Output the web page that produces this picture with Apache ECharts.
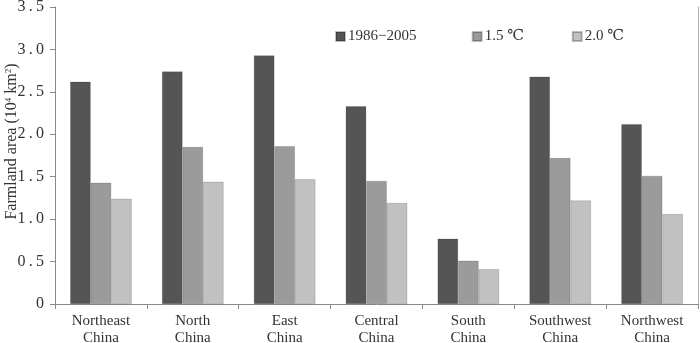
<!DOCTYPE html>
<html>
<head>
<meta charset="utf-8">
<script src="https://cdn.jsdelivr.net/npm/echarts@6/dist/echarts.min.js"></script>
<style>
  html, body { margin: 0; padding: 0; background: #fff; }
  #chart-container { width: 700px; height: 343px; }
</style>
</head>
<body>
<div id="chart-container"></div>
<script>
const regions = ['Northeast\nChina', 'North\nChina', 'East\nChina', 'Central\nChina', 'South\nChina', 'Southwest\nChina', 'Northwest\nChina'];
const seriesNames = ['1986\u22122005', '1.5 \u2103', '2.0 \u2103'];
const base = [2.62, 2.74, 2.93, 2.33, 0.77, 2.68, 2.12];
const warm15 = [1.43, 1.85, 1.86, 1.45, 0.51, 1.72, 1.51];
const warm20 = [1.24, 1.44, 1.47, 1.19, 0.41, 1.22, 1.06];
const barColors = ['#555555', '#9a9b9a', '#c1c1c1'];

const fontFamily = '"Liberation Serif", "DejaVu Serif", serif';
const axisGray = '#8a8a8a';
const dom = document.getElementById('chart-container');
const myChart = echarts.init(dom, null, { renderer: 'canvas' });

function makeSeries(name, data, color) {
    return {
        name: name,
        type: 'bar',
        data: data,
        barGap: '0%',
        barCategoryGap: '33%',
        itemStyle: { color: color, borderColor: 'rgba(0,0,0,0.25)', borderWidth: 0.6 }
    };
}

const option = {
    animation: false,
    textStyle: { fontFamily: fontFamily },
    legend: {
        left: 330,
        top: 24,
        itemWidth: 9,
        itemHeight: 9,
        itemGap: 44,
        icon: 'rect',
        textStyle: { fontFamily: fontFamily, fontSize: 15, color: '#333', padding: [0, 0, 0, -2] },
        formatter: function (name) {
            if (name === seriesNames[0]) return name + '   ';
            if (name === seriesNames[1]) return name + ' ';
            return name;
        },
        data: seriesNames
    },
    grid: { left: 55, right: 2, top: 7, bottom: 39, outerBoundsMode: 'none' },
    xAxis: {
        type: 'category',
        data: regions,
        axisLine: { lineStyle: { color: axisGray, width: 1 } },
        axisTick: { show: true, length: 5, lineStyle: { color: axisGray } },
        axisLabel: { color: '#333', fontSize: 15, lineHeight: 17, margin: 9, fontFamily: fontFamily }
    },
    yAxis: [{
        type: 'value',
        min: 0,
        max: 3.5,
        interval: 0.5,
        name: '{a|Farmland area (10}{s|4}{a| km}{s|2}{a|)}',
        nameLocation: 'middle',
        nameGap: 35,
        nameMoveOverlap: false,
        nameTextStyle: {
            padding: [0, 0, 0, 28],
            rich: {
                a: { fontFamily: fontFamily, fontSize: 16, color: '#333' },
                s: { fontFamily: fontFamily, fontSize: 9, color: '#333', verticalAlign: 'top', padding: [0, 0, 6, 0] }
            }
        },
        axisLine: { show: true, lineStyle: { color: axisGray, width: 1 } },
        axisTick: { show: true, length: 5, lineStyle: { color: axisGray } },
        splitLine: { show: false },
        axisLabel: {
            color: '#333',
            fontSize: 16,
            margin: 11,
            fontFamily: fontFamily,
            formatter: function (v) {
                return v === 0 ? '0' : v.toFixed(1).split('').join('\u2009');
            }
        }
    }, {
        type: 'value',
        position: 'right',
        min: 0,
        max: 3.5,
        interval: 0.5,
        axisLine: { show: true, lineStyle: { color: '#b0b0b0', width: 1 } },
        axisTick: { show: false },
        axisLabel: { show: false },
        splitLine: { show: false }
    }],
    series: [
        makeSeries(seriesNames[0], base, barColors[0]),
        makeSeries(seriesNames[1], warm15, barColors[1]),
        makeSeries(seriesNames[2], warm20, barColors[2])
    ]
};

myChart.setOption(option, true);
</script>
</body>
</html>
